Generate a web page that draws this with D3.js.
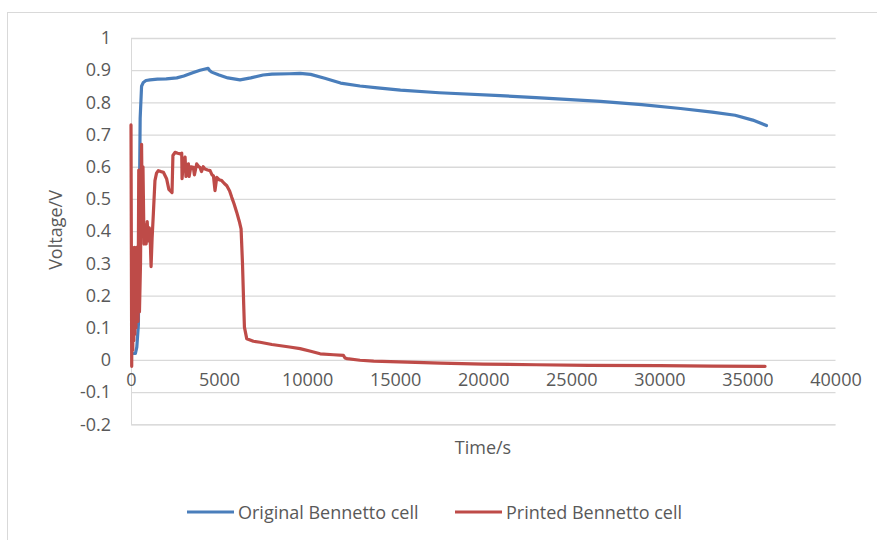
<!DOCTYPE html>
<html><head><meta charset="utf-8">
<script src="https://cdn.jsdelivr.net/npm/d3@7"></script>
<style>body{margin:0;background:#fff}svg{display:block}text{font-family:"Open Sans",sans-serif;fill:#595959}</style>
</head><body>
<svg id="c" width="877" height="540"></svg>
<script>
const xTicks = [0,5000,10000,15000,20000,25000,30000,35000,40000];
const yTicks = [-0.2,-0.1,0,0.1,0.2,0.3,0.4,0.5,0.6,0.7,0.8,0.9,1];
const seriesNames = ["Original Bennetto cell","Printed Bennetto cell"];
const seriesColors = ["#4A7EBB","#BE4B48"];
const originalT = [150,250,330,420,470,520,600,700,850,1080,1500,2000,2600,3000,3500,3920,4380,4450,4580,5000,5500,6190,6800,7500,8000,9000,9600,10200,11000,11900,13000,14000,15300,17500,20960,23000,26650,29000,31200,33000,34300,35300,36080];
const originalV = [0.02,0.02,0.04,0.11,0.45,0.75,0.85,0.862,0.868,0.870,0.872,0.873,0.876,0.882,0.892,0.9,0.906,0.9,0.894,0.885,0.876,0.870,0.876,0.885,0.888,0.889,0.89,0.887,0.875,0.86,0.851,0.845,0.838,0.83,0.821,0.815,0.803,0.793,0.781,0.77,0.76,0.745,0.728];
const printedT = [0,40,70,100,130,160,190,220,250,280,310,340,370,400,440,480,540,600,640,680,740,800,860,920,980,1040,1100,1140,1200,1270,1360,1450,1550,1700,1840,2020,2150,2220,2330,2380,2500,2650,2800,2880,2900,2950,3070,3120,3200,3260,3300,3400,3540,3600,3730,3850,3920,4000,4100,4200,4350,4490,4600,4680,4770,4870,5000,5150,5300,5440,5600,5720,5850,6000,6150,6250,6330,6400,6440,6570,6760,6950,7330,8000,9000,9600,10200,10740,11500,12060,12150,12270,13000,13780,15680,17560,20000,23000,26000,30000,33000,36000];
const printedV = [0.73,-0.02,0.35,0.03,0.34,0.06,0.35,0.08,0.34,0.1,0.35,0.12,0.3,0.12,0.59,0.15,0.3,0.67,0.45,0.6,0.36,0.42,0.36,0.43,0.37,0.41,0.36,0.29,0.38,0.455,0.557,0.58,0.588,0.585,0.583,0.563,0.53,0.526,0.52,0.635,0.645,0.642,0.64,0.642,0.563,0.6,0.63,0.57,0.6,0.609,0.57,0.6,0.598,0.575,0.609,0.6,0.598,0.585,0.6,0.593,0.59,0.588,0.575,0.572,0.526,0.567,0.56,0.557,0.548,0.541,0.525,0.505,0.485,0.459,0.43,0.407,0.3,0.17,0.102,0.066,0.062,0.058,0.055,0.048,0.04,0.035,0.027,0.019,0.016,0.014,0.006,0.004,-0.001,-0.004,-0.007,-0.01,-0.013,-0.015,-0.017,-0.018,-0.019,-0.02];

const svg = d3.select("#c");
const x = d3.scaleLinear().domain([0,40000]).range([131,835.5]);
const y = d3.scaleLinear().domain([-0.2,1]).range([424.3,38]);
const grid = "#d9d9d9";
const fs = 18;

// chart border (top and left visible)
svg.append("line").attr("x1",7).attr("x2",877).attr("y1",12.5).attr("y2",12.5).attr("stroke",grid);
svg.append("line").attr("x1",7.5).attr("x2",7.5).attr("y1",12).attr("y2",540).attr("stroke",grid);

// horizontal gridlines + y labels
const yAxis = d3.axisLeft(y).tickValues(yTicks).tickSize(-(x.range()[1]-x.range()[0])).tickPadding(20)
  .tickFormat(d => String(+d.toFixed(1)));
const gy = svg.append("g").attr("transform",`translate(${x.range()[0]},0)`).call(yAxis);
gy.select(".domain").attr("stroke",grid).attr("stroke-width",1);
gy.selectAll(".tick line").attr("stroke",grid).attr("stroke-width",1.3);
gy.selectAll(".tick text").attr("font-size",fs).attr("fill","#595959").style("font-family","'Open Sans',sans-serif");

// x axis labels at y=0
const xAxis = d3.axisBottom(x).tickValues(xTicks).tickSize(0).tickPadding(13).tickFormat(d => String(d));
const gx = svg.append("g").attr("transform",`translate(0,${y(0)})`).call(xAxis);
gx.select(".domain").remove();
gx.selectAll(".tick text").attr("font-size",fs).attr("fill","#595959").style("font-family","'Open Sans',sans-serif");

// lines
const line = d3.line().x(d=>x(d[0])).y(d=>y(d[1]));
const data = [d3.zip(originalT,originalV), d3.zip(printedT,printedV)];
data.forEach((d,i)=>{
  svg.append("path").datum(d).attr("d",line).attr("fill","none")
    .attr("stroke",seriesColors[i]).attr("stroke-width",3.2).attr("stroke-linejoin","round").attr("stroke-linecap","round");
});

// axis titles
svg.append("text").attr("x",483).attr("y",447).attr("text-anchor","middle").attr("dominant-baseline","central")
  .attr("font-size",fs).text("Time/s");
svg.append("text").attr("transform","translate(55,230) rotate(-90)").attr("text-anchor","middle").attr("dominant-baseline","central")
  .attr("font-size",fs).text("Voltage/V");

// legend
const legX = [187,455];
seriesNames.forEach((n,i)=>{
  svg.append("line").attr("x1",legX[i]).attr("x2",legX[i]+47).attr("y1",512).attr("y2",512)
    .attr("stroke",seriesColors[i]).attr("stroke-width",3.2);
  svg.append("text").attr("x",legX[i]+51).attr("y",512).attr("dominant-baseline","central")
    .attr("font-size",fs).text(n);
});
</script>
</body></html>
